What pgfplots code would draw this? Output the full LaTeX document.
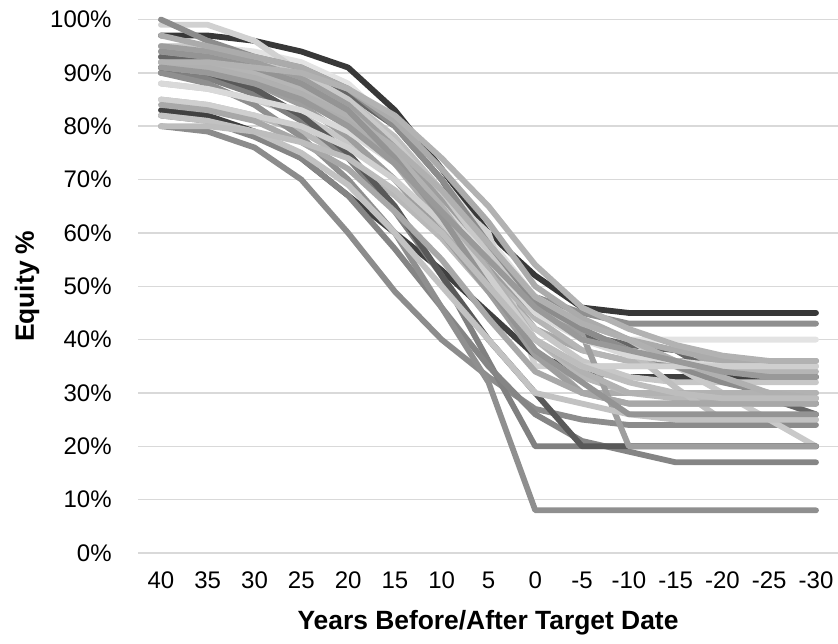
\documentclass[border=0pt]{standalone}
\usepackage{fontspec}
\setmainfont{Liberation Sans}
\usepackage{pgfplots}
\pgfplotsset{compat=1.18}
\definecolor{gridc}{gray}{0.85}
\definecolor{c1}{gray}{0.22}
\definecolor{c2}{gray}{0.56}
\definecolor{c3}{gray}{0.89}
\definecolor{c4}{gray}{0.66}
\definecolor{c5}{gray}{0.82}
\definecolor{c6}{gray}{0.71}
\definecolor{c7}{gray}{0.25}
\definecolor{c8}{gray}{0.78}
\definecolor{c9}{gray}{0.68}
\definecolor{c10}{gray}{0.72}
\definecolor{c11}{gray}{0.62}
\definecolor{c12}{gray}{0.40}
\definecolor{c13}{gray}{0.75}
\definecolor{c14}{gray}{0.55}
\definecolor{c15}{gray}{0.50}
\definecolor{c16}{gray}{0.79}
\definecolor{c17}{gray}{0.52}
\definecolor{c18}{gray}{0.56}
\definecolor{c19}{gray}{0.35}
\definecolor{c20}{gray}{0.62}
\definecolor{c21}{gray}{0.55}
\definecolor{c22}{gray}{0.67}
\definecolor{c23}{gray}{0.85}
\definecolor{c24}{gray}{0.70}
\definecolor{c25}{gray}{0.69}
\definecolor{c26}{gray}{0.81}
\definecolor{c27}{gray}{0.66}
\definecolor{c28}{gray}{0.76}
\definecolor{c29}{gray}{0.58}
\definecolor{c30}{gray}{0.74}
\definecolor{c31}{gray}{0.70}
\definecolor{c32}{gray}{0.60}
\begin{document}
\begin{tikzpicture}
\begin{axis}[
 scale only axis, width=350pt, height=266.75pt,
 xmin=-0.49, xmax=14.47, ymin=0, ymax=100,
 xtick={0,...,14},
 xticklabels={40,35,30,25,20,15,10,5,0,-5,-10,-15,-20,-25,-30},
 ytick={0,10,...,100},
 yticklabels={0\%,10\%,20\%,30\%,40\%,50\%,60\%,70\%,80\%,90\%,100\%},
 ymajorgrids, grid style={color=gridc, line width=0.75pt},
 axis line style={draw=none}, major tick length=0pt,
 tick label style={font=\fontsize{12}{14}\selectfont},
 xticklabel style={anchor=center, inner sep=0pt, yshift=-13.5pt},
 yticklabel style={anchor=east, inner sep=0pt, xshift=-13pt},
 xlabel={Years Before/After Target Date}, ylabel={Equity \%},
 label style={font=\fontsize{13.2}{16}\selectfont\bfseries},
 xlabel style={at={(axis description cs:0.5,-0.1312)}, anchor=center, inner sep=0pt},
 ylabel style={at={(axis description cs:-0.1586,0.5)}, anchor=center, inner sep=0pt},
 every axis plot/.append style={line width=2.9pt, line join=round, line cap=round, mark=none},
 clip=false,
]
\addplot[c1] coordinates {(0,97)(1,97)(2,96)(3,94)(4,91)(5,83)(6,72)(7,60)(8,52)(9,46)(10,45)(11,45)(12,45)(13,45)(14,45)};
\addplot[c2] coordinates {(0,92)(1,92)(2,91)(3,89)(4,85)(5,77)(6,67)(7,56)(8,48)(9,45)(10,43)(11,43)(12,43)(13,43)(14,43)};
\addplot[c3] coordinates {(0,95)(1,95)(2,94)(3,92)(4,88)(5,80)(6,70)(7,59)(8,48)(9,43)(10,40)(11,40)(12,40)(13,40)(14,40)};
\addplot[c4] coordinates {(0,90)(1,90)(2,89)(3,86)(4,81)(5,73)(6,63)(7,53)(8,42)(9,38)(10,36)(11,36)(12,36)(13,36)(14,36)};
\addplot[c5] coordinates {(0,99)(1,99)(2,96)(3,90)(4,84)(5,76)(6,68)(7,60)(8,35)(9,35)(10,35)(11,35)(12,35)(13,35)(14,35)};
\addplot[c6] coordinates {(0,93)(1,92)(2,90)(3,87)(4,82)(5,74)(6,64)(7,53)(8,44)(9,38)(10,36)(11,35)(12,34)(13,34)(14,34)};
\addplot[c7] coordinates {(0,83)(1,82)(2,79)(3,74)(4,67)(5,60)(6,53)(7,45)(8,37)(9,34)(10,33)(11,33)(12,33)(13,33)(14,33)};
\addplot[c8] coordinates {(0,88)(1,87)(2,85)(3,82)(4,77)(5,70)(6,61)(7,51)(8,42)(9,36)(10,33)(11,32)(12,32)(13,32)(14,32)};
\addplot[c9] coordinates {(0,90)(1,90)(2,89)(3,86)(4,81)(5,73)(6,62)(7,50)(8,38)(9,30)(10,30)(11,30)(12,30)(13,30)(14,30)};
\addplot[c10] coordinates {(0,85)(1,84)(2,82)(3,79)(4,74)(5,67)(6,59)(7,49)(8,40)(9,33)(10,30)(11,29)(12,29)(13,29)(14,29)};
\addplot[c11] coordinates {(0,91)(1,90)(2,88)(3,84)(4,78)(5,70)(6,60)(7,49)(8,37)(9,30)(10,28)(11,28)(12,28)(13,28)(14,28)};
\addplot[c12] coordinates {(0,93)(1,93)(2,92)(3,90)(4,86)(5,80)(6,70)(7,56)(8,45)(9,41)(10,39)(11,38)(12,33)(13,29)(14,26)};
\addplot[c13] coordinates {(0,95)(1,94)(2,93)(3,90)(4,85)(5,78)(6,68)(7,57)(8,46)(9,42)(10,38)(11,31)(12,25)(13,25)(14,25)};
\addplot[c14] coordinates {(0,80)(1,79)(2,76)(3,70)(4,60)(5,49)(6,40)(7,33)(8,27)(9,25)(10,24)(11,24)(12,24)(13,24)(14,24)};
\addplot[c15] coordinates {(0,90)(1,89)(2,86)(3,81)(4,74)(5,64)(6,52)(7,36)(8,20)(9,20)(10,20)(11,20)(12,20)(13,20)(14,20)};
\addplot[c16] coordinates {(0,95)(1,95)(2,93)(3,90)(4,85)(5,77)(6,67)(7,56)(8,47)(9,43)(10,40)(11,35)(12,30)(13,25)(14,20)};
\addplot[c17] coordinates {(0,82)(1,81)(2,78)(3,74)(4,67)(5,57)(6,46)(7,35)(8,26)(9,21)(10,19)(11,17)(12,17)(13,17)(14,17)};
\addplot[c18] coordinates {(0,90)(1,88)(2,84)(3,78)(4,70)(5,60)(6,46)(7,32)(8,8)(9,8)(10,8)(11,8)(12,8)(13,8)(14,8)};
\addplot[c19] coordinates {(0,91)(1,90)(2,87)(3,82)(4,75)(5,65)(6,52)(7,40)(8,30)(9,20)(10,20)(11,20)(12,20)(13,20)(14,20)};
\addplot[c20] coordinates {(0,95)(1,94)(2,92)(3,89)(4,84)(5,76)(6,66)(7,54)(8,45)(9,41)(10,20)(11,20)(12,20)(13,20)(14,20)};
\addplot[c21] coordinates {(0,100)(1,96)(2,93)(3,91)(4,87)(5,80)(6,70)(7,58)(8,47)(9,42)(10,38)(11,35)(12,32)(13,30)(14,28)};
\addplot[c22] coordinates {(0,97)(1,95)(2,93)(3,91)(4,87)(5,81)(6,72)(7,62)(8,50)(9,44)(10,40)(11,38)(12,36)(13,36)(14,36)};
\addplot[c23] coordinates {(0,88)(1,87)(2,85)(3,83)(4,79)(5,73)(6,65)(7,55)(8,45)(9,40)(10,37)(11,36)(12,35)(13,35)(14,35)};
\addplot[c24] coordinates {(0,94)(1,93)(2,91)(3,88)(4,83)(5,75)(6,65)(7,53)(8,40)(9,34)(10,30)(11,30)(12,30)(13,30)(14,30)};
\addplot[c25] coordinates {(0,92)(1,91)(2,89)(3,86)(4,82)(5,76)(6,68)(7,58)(8,48)(9,43)(10,40)(11,36)(12,33)(13,30)(14,29)};
\addplot[c26] coordinates {(0,85)(1,84)(2,82)(3,80)(4,76)(5,70)(6,62)(7,52)(8,40)(9,35)(10,35)(11,35)(12,35)(13,35)(14,35)};
\addplot[c27] coordinates {(0,84)(1,83)(2,81)(3,77)(4,72)(5,64)(6,55)(7,44)(8,34)(9,30)(10,28)(11,28)(12,28)(13,28)(14,28)};
\addplot[c28] coordinates {(0,82)(1,81)(2,79)(3,75)(4,69)(5,60)(6,50)(7,40)(8,30)(9,28)(10,26)(11,25)(12,25)(13,25)(14,25)};
\addplot[c29] coordinates {(0,94)(1,93)(2,91)(3,88)(4,83)(5,74)(6,63)(7,50)(8,38)(9,32)(10,26)(11,26)(12,26)(13,26)(14,26)};
\addplot[c30] coordinates {(0,80)(1,80)(2,79)(3,77)(4,74)(5,68)(6,60)(7,50)(8,40)(9,35)(10,32)(11,30)(12,29)(13,29)(14,29)};
\addplot[c31] coordinates {(0,92)(1,92)(2,91)(3,90)(4,87)(5,82)(6,74)(7,65)(8,54)(9,46)(10,42)(11,39)(12,37)(13,36)(14,36)};
\addplot[c32] coordinates {(0,91)(1,90)(2,88)(3,85)(4,80)(5,73)(6,64)(7,55)(8,46)(9,40)(10,38)(11,36)(12,34)(13,33)(14,33)};
\coordinate (ll) at (rel axis cs:0,0);
\coordinate (ur) at (rel axis cs:1,1);
\end{axis}
\pgfresetboundingbox
\path[use as bounding box] ([xshift=-69pt,yshift=-45pt]ll) rectangle ([yshift=9.75pt]ur);
\end{tikzpicture}
\end{document}
